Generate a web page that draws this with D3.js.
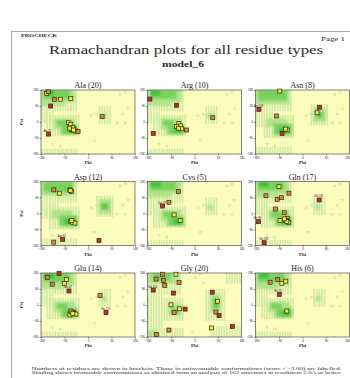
<!DOCTYPE html>
<html>
<head>
<meta charset="utf-8">
<script src="https://cdn.jsdelivr.net/npm/d3@7/dist/d3.min.js"></script>
<style>
  html,body{margin:0;padding:0;background:#fff}
  svg{display:block}
  .ax text{font-family:'Liberation Sans',sans-serif;font-size:3px;fill:#222}
  .ax path,.ax line{stroke:#222;stroke-width:0.5}
</style>
</head>
<body>
<svg id="page" width="350" height="378"></svg>
<script>
// residue panels, in reading order
const residueNames = ['Ala', 'Arg', 'Asn', 'Asp', 'Cys', 'Gln', 'Glu', 'Gly', 'His'];
const residueCounts = [20, 10, 8, 12, 5, 17, 14, 20, 6];
const shadeKind = ['gen', 'gen', 'asx', 'asx', 'gen', 'gen', 'gen', 'gly', 'gen'];
const angleTicks = [-180, -90, 0, 90, 180];

// shading regions: [phiFrom, phiTo, psiFrom, psiTo, level]
const genRegions = [
  [-180, -40, 60, 180, 1], [-180, -130, -10, 60, 1], [-160, -30, -80, 40, 1],
  [-180, -40, -180, -150, 1], [40, 90, -10, 90, 1],
  [-180, -50, 110, 180, 2], [-180, -90, 90, 110, 2], [-130, -50, -40, 20, 2],
  [-110, -40, -70, -10, 2], [50, 70, 20, 50, 2],
  [-170, -70, 130, 180, 3], [-100, -40, -70, -20, 3], [-120, -80, -20, 10, 3],
  [-170, -130, 150, 180, 4], [-80, -50, -60, -30, 4],
];
const asxRegions = [
  [-180, -40, 60, 180, 1], [-180, -110, -30, 60, 1], [-150, -30, -90, 40, 1],
  [-180, -40, -180, -140, 1], [30, 100, -20, 100, 1],
  [-180, -50, 100, 180, 2], [-140, -60, -30, 20, 2], [-110, -40, -80, -20, 2],
  [40, 90, 0, 80, 2],
  [-170, -60, 120, 180, 3], [-110, -40, -70, -10, 3], [50, 80, 20, 60, 3],
  [-90, -60, -60, -30, 4], [55, 70, 30, 50, 4],
];
const glyRegions = [
  [-180, -50, 60, 180, 1], [-180, -120, -180, 60, 1], [-130, -40, -90, 40, 1],
  [-120, -40, -180, -130, 1], [40, 120, -90, 90, 1], [60, 180, -180, -120, 1],
  [120, 180, 120, 180, 1],
  [-180, -60, 120, 180, 2], [-100, -50, -60, 10, 2], [60, 100, -40, 60, 2],
  [-180, -140, -180, -140, 2],
  [-90, -60, -50, -20, 3], [70, 95, -20, 40, 3], [-160, -90, 140, 180, 3],
  [75, 90, 0, 20, 4],
];
// isolated sparse bins
const genSparse = [[120, 150], [140, 160], [10, 30], [30, 40], [110, -10], [140, -10],
  [20, -110], [-140, -130], [-110, -140], [150, 70], [130, 40]];
const glySparse = [[0, 150], [20, 170], [-10, -160], [30, 120]];

// residues: [phi, psi, class]  0 = good, 1 = fair, 2 = poor
const alaPts = [[-158, 161, 0], [-152, 170, 1], [-129, 128, 1], [-105, 128, 0], [-66, 133, 0],
  [-143, 90, 2], [54, 30, 1], [-151, -68, 2], [-75, -4, 0], [-69, -26, 0], [-62, -45, 0],
  [-54, -39, 0], [-47, -51, 0], [-38, -54, 1], [-66, -13, 0], [-60, -40, 0], [-64, -42, 0],
  [-58, -30, 0], [-70, -35, 0], [-55, -45, 0]];
const argPts = [[-171, 129, 2], [-69, 94, 2], [-158, -64, 2], [70, 24, 1], [-60, -8, 0],
  [-54, -22, 0], [-69, -26, 0], [-49, -38, 0], [-31, -45, 1], [-62, -35, 0]];
const asnPts = [[-87, 174, 0], [-167, 71, 2], [-100, 34, 1], [65, 83, 2], [56, 52, 0],
  [-59, -45, 0], [-78, -64, 2], [-65, -40, 0]];
const aspPts = [[-131, 133, 1], [-110, 114, 0], [-69, 133, 1], [-63, 124, 0], [-66, -45, 0],
  [-60, -49, 0], [-50, -54, 0], [-97, -146, 2], [-131, -161, 1], [42, -152, 2],
  [-62, -40, 0], [-68, 130, 0]];
const cysPts = [[-62, 123, 1], [-98, 63, 1], [-122, 42, 2], [-78, -8, 0], [-55, -40, 0]];
const glnPts = [[-90, 151, 0], [-140, 100, 1], [-52, 114, 1], [-97, 80, 1], [-80, 89, 1],
  [64, 76, 2], [-103, 25, 1], [-70, 4, 1], [-86, -40, 0], [-57, -27, 0], [-53, -51, 0],
  [-61, -37, 0], [-169, -46, 2], [-147, -164, 2], [-65, -40, 0], [-60, -45, 0], [-70, -30, 0]];
const gluPts = [[-156, 156, 1], [-111, 178, 2], [-137, 117, 1], [-91, 122, 0], [-82, 144, 0],
  [-73, 79, 2], [46, 53, 1], [69, -43, 2], [-66, -34, 0], [-56, -43, 0], [-46, -51, 0],
  [-69, -56, 0], [-62, -40, 0], [-58, -48, 0]];
const glyPts = [[-123, 173, 1], [-71, 173, 0], [-147, 146, 1], [-119, 137, 1], [-59, 126, 1],
  [-158, 84, 2], [-114, 110, 1], [-81, 67, 2], [-90, 1, 0], [-58, -21, 0], [-36, -23, 2],
  [-78, -43, 1], [68, 72, 2], [88, 21, 0], [82, -40, 1], [94, -59, 2], [65, -129, 0],
  [145, -121, 2], [-98, -141, 1], [-145, -166, 1]];
const hisPts = [[-124, 128, 1], [-95, 143, 1], [-79, 122, 0], [-64, 134, 0], [-89, 59, 2],
  [-60, -34, 0]];
const panelPts = [alaPts, argPts, asnPts, aspPts, cysPts, glnPts, gluPts, glyPts, hisPts];

// labelled residues: [panel, phi, psi, text]
const labelled = [[0, -151, -68, 'Ala 71'], [2, -167, 71, 'Asn 119'], [3, -97, -146, 'Asp 83'],
  [4, -122, 42, 'Cys 58'], [5, 64, 76, 'Gln 205'], [5, -169, -46, 'Gln 96'],
  [5, -147, -164, 'Gln 188'], [6, -73, 79, 'Glu 47'], [6, 69, -43, 'Glu 170'],
  [7, -158, 84, 'Gly 154'], [8, -89, 59, 'His 32']];

const footLines = [
  'Numbers of residues are shown in brackets. Those in unfavourable conformations (score < -3.00) are labelled.',
  'Shading shows favourable conformations as obtained from an analysis of 163 structures at resolution 2.0A or better.',
];

const colX = [41, 147.5, 255.5];
const rowY = [90, 181.5, 273];
const pw = 94, ph = 64;
const levelFill = ['#d3eba6', '#a9df84', '#6fd054', '#35c035'];
const classFill = ['#f4ea2c', '#e0882c', '#cc2a1c'];
const serif = "'Liberation Serif','DejaVu Serif',serif";

const svg = d3.select('#page');

// page frame (runs off to the right and bottom)
svg.append('rect').attr('x', 11.5).attr('y', 31.5).attr('width', 400).attr('height', 400)
  .attr('fill', 'none').attr('stroke', '#a8a8a8').attr('stroke-width', 1);

function fitText(x, y, len, size, txt, bold) {
  return svg.append('text').attr('x', x).attr('y', y)
    .attr('textLength', len).attr('lengthAdjust', 'spacingAndGlyphs')
    .style('font-family', serif).style('font-size', size + 'px')
    .style('font-weight', bold ? 'bold' : 'normal')
    .attr('fill', '#2a2a2a').text(txt);
}
fitText(21, 36.5, 36, 5, 'PROCHECK', true);
fitText(321, 41, 24, 5.5, 'Page  1', false);
fitText(49, 54, 274, 13.5, 'Ramachandran plots for all residue types', false);
fitText(162, 67, 42, 9, 'model_6', true);

const defs = svg.append('defs');
defs.append('filter').attr('id', 'soft')
  .attr('x', '-20%').attr('y', '-20%').attr('width', '140%').attr('height', '140%')
  .append('feGaussianBlur').attr('stdDeviation', 0.9);

const regionSets = { gen: genRegions, asx: asxRegions, gly: glyRegions };

residueNames.forEach((name, i) => {
  const col = i % 3, row = Math.floor(i / 3);
  const g = svg.append('g').attr('transform', `translate(${colX[col]},${rowY[row]})`);
  const x = d3.scaleLinear().domain([-180, 180]).range([0, pw]);
  const y = d3.scaleLinear().domain([-180, 180]).range([ph, 0]);

  g.append('clipPath').attr('id', 'clip' + i)
    .append('rect').attr('width', pw).attr('height', ph);
  const plot = g.append('g').attr('clip-path', `url(#clip${i})`);
  plot.append('rect').attr('width', pw).attr('height', ph).attr('fill', '#fcfcbc');

  const regions = regionSets[shadeKind[i]];
  // pale bins as thin vertical strips
  const pale = plot.append('g');
  regions.filter(r => r[4] === 1).forEach(r => {
    for (let p = r[0]; p < r[1]; p += 10) {
      pale.append('rect')
        .attr('x', x(p) + 0.3).attr('y', y(r[3]))
        .attr('width', x(p + 10) - x(p) - 0.9).attr('height', y(r[2]) - y(r[3]))
        .attr('fill', levelFill[0]);
    }
  });
  const sparse = shadeKind[i] === 'gly' ? glySparse : genSparse;
  sparse.forEach(s => {
    pale.append('rect').attr('x', x(s[0])).attr('y', y(s[1] + 10))
      .attr('width', x(s[0] + 10) - x(s[0]) - 0.6).attr('height', y(s[1]) - y(s[1] + 10))
      .attr('fill', 'none').attr('stroke', '#bcd89a').attr('stroke-width', 0.5);
  });
  const dense = plot.append('g').attr('filter', 'url(#soft)');
  [2, 3, 4].forEach(lv => {
    regions.filter(r => r[4] === lv).forEach(r => {
      dense.append('rect')
        .attr('x', x(r[0])).attr('y', y(r[3]))
        .attr('width', x(r[1]) - x(r[0])).attr('height', y(r[2]) - y(r[3]))
        .attr('fill', levelFill[lv - 1]).attr('opacity', 0.85);
    });
  });

  // frame and axes
  g.append('rect').attr('width', pw).attr('height', ph)
    .attr('fill', 'none').attr('stroke', '#333').attr('stroke-width', 0.6);
  const xa = g.append('g').attr('class', 'ax').attr('transform', `translate(0,${ph})`)
    .call(d3.axisBottom(x).tickValues(angleTicks).tickSize(1.5).tickPadding(1))
    .call(a => a.select('.domain').remove());
  if (col === 2) {
    xa.selectAll('.tick').filter(d => d === 180).select('text').attr('text-anchor', 'end');
  }
  g.append('g').attr('class', 'ax')
    .call(d3.axisLeft(y).tickValues(angleTicks).tickSize(1.5).tickPadding(1))
    .call(a => a.select('.domain').remove());

  g.append('text').attr('x', pw / 2).attr('y', -2).attr('text-anchor', 'middle')
    .style('font-family', serif).style('font-size', '8px').attr('fill', '#222')
    .text(`${name} (${residueCounts[i]})`);
  g.append('text').attr('x', pw / 2).attr('y', ph + 10).attr('text-anchor', 'middle')
    .style('font-family', serif).style('font-size', '5px').style('font-weight', 'bold')
    .attr('fill', '#333').text('Phi');
  if (col === 0) {
    g.append('text').attr('transform', `translate(${23 - colX[0]},${ph / 2}) rotate(-90)`)
      .attr('text-anchor', 'middle')
      .style('font-family', serif).style('font-size', '5px').style('font-weight', 'bold')
      .attr('fill', '#333').text('Psi');
  }

  // residue markers
  const s = 4;
  g.selectAll('rect.res').data(panelPts[i]).enter().append('rect')
    .attr('class', 'res')
    .attr('x', d => x(d[0]) - s / 2).attr('y', d => y(d[1]) - s / 2)
    .attr('width', s).attr('height', s)
    .attr('fill', d => classFill[d[2]]).attr('stroke', '#2a2a2a').attr('stroke-width', 0.7);

  g.selectAll('text.lbl').data(labelled.filter(l => l[0] === i)).enter().append('text')
    .attr('class', 'lbl')
    .attr('x', d => x(d[1]) - 5).attr('y', d => y(d[2]) - 2.5)
    .style('font-family', "'Liberation Sans',sans-serif").style('font-size', '2.6px')
    .attr('fill', '#111').text(d => d[3]);
});

svg.selectAll('text.foot').data(footLines).enter().append('text')
  .attr('class', 'foot')
  .attr('x', 31.5).attr('y', (d, i) => 370 + i * 3.8)
  .attr('textLength', 310).attr('lengthAdjust', 'spacingAndGlyphs')
  .style('font-family', serif).style('font-size', '3.8px').attr('fill', '#333')
  .text(d => d);
</script>
</body>
</html>
